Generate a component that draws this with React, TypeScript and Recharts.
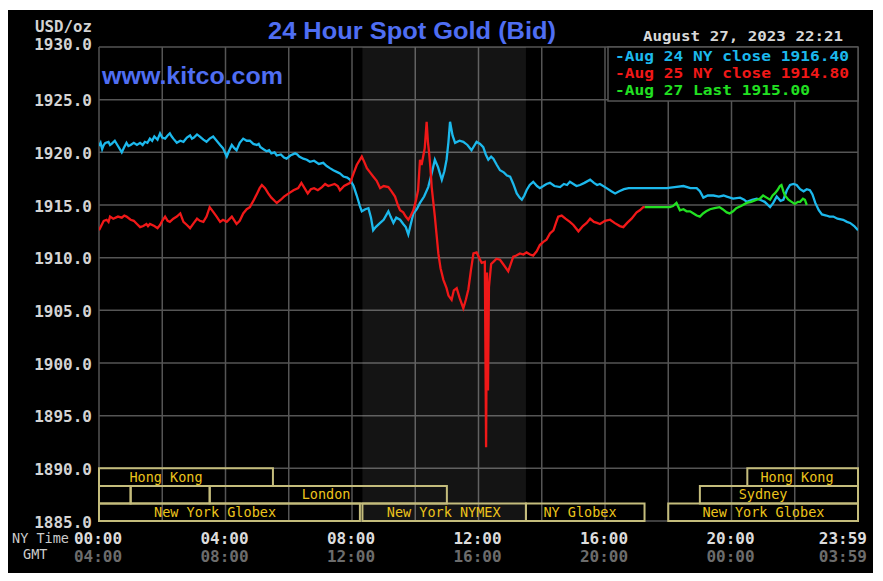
import React from "react";
import { LineChart, Line, XAxis, YAxis, CartesianGrid, ReferenceArea } from "recharts";

// ---- data (hours NY time, USD/oz) ----
const aug24Close: [number, number][] = [
  [0.0, 1920.6], [0.05, 1920.9], [0.1, 1920.3], [0.15, 1920.7], [0.2, 1920.9], [0.3, 1921.0], [0.35, 1920.7], [0.4, 1920.8], [0.5, 1921.1], [0.6, 1920.6],
  [0.72, 1920.0], [0.8, 1920.5], [0.87, 1920.9], [0.93, 1920.6], [1.0, 1920.7], [1.1, 1920.9], [1.2, 1920.7], [1.3, 1920.9],
  [1.38, 1920.7], [1.45, 1921.0], [1.53, 1920.9], [1.61, 1921.3], [1.68, 1921.1], [1.75, 1921.5], [1.85, 1921.2], [1.93, 1921.8], [2.0, 1921.4], [2.09, 1921.3],
  [2.17, 1921.6], [2.24, 1921.8], [2.3, 1921.5], [2.35, 1921.3], [2.46, 1920.9], [2.57, 1921.1], [2.67, 1921.0], [2.78, 1921.4],
  [2.88, 1921.6], [2.94, 1921.3], [3.0, 1921.4], [3.1, 1921.7], [3.19, 1921.5], [3.3, 1921.2], [3.4, 1921.0], [3.5, 1921.3],
  [3.61, 1921.5], [3.72, 1921.1], [3.83, 1920.7], [3.92, 1920.4], [4.04, 1919.6], [4.12, 1920.2], [4.2, 1920.7],
  [4.28, 1920.4], [4.35, 1920.2], [4.45, 1920.9], [4.56, 1921.3], [4.67, 1921.1], [4.77, 1921.1], [4.88, 1920.8],
  [4.99, 1920.7], [5.05, 1920.8], [5.1, 1920.5], [5.2, 1920.3], [5.3, 1920.1], [5.38, 1920.2], [5.45, 1919.9], [5.55, 1920.0], [5.62, 1919.7], [5.75, 1919.8],
  [5.85, 1919.5], [5.93, 1919.4], [6.05, 1919.7], [6.2, 1919.9], [6.27, 1919.8], [6.33, 1919.6], [6.46, 1919.4], [6.57, 1919.3],
  [6.67, 1919.1], [6.8, 1919.2], [6.95, 1918.9], [7.09, 1919.0], [7.2, 1918.7], [7.3, 1918.5], [7.41, 1918.3],
  [7.55, 1918.1], [7.62, 1918.0], [7.73, 1917.7], [7.85, 1917.6], [7.94, 1917.4], [8.05, 1916.8], [8.15, 1915.9],
  [8.25, 1914.9], [8.31, 1914.4], [8.42, 1914.6], [8.52, 1914.7], [8.6, 1913.8], [8.67, 1912.6], [8.75, 1912.9],
  [8.89, 1913.3], [9.0, 1913.6], [9.15, 1914.4], [9.22, 1913.9], [9.31, 1913.3], [9.4, 1913.8], [9.52, 1913.6],
  [9.62, 1913.2], [9.7, 1912.9], [9.78, 1912.2], [9.86, 1913.2], [9.94, 1914.2], [10.05, 1914.6], [10.15, 1915.2],
  [10.28, 1915.8], [10.41, 1916.7], [10.52, 1918.0], [10.62, 1919.3], [10.72, 1918.6], [10.84, 1917.4],
  [10.92, 1918.2], [10.99, 1919.3], [11.05, 1921.0], [11.1, 1922.9], [11.18, 1921.6], [11.26, 1920.9],
  [11.4, 1921.1], [11.52, 1921.0], [11.65, 1920.7], [11.78, 1920.2], [11.86, 1920.6], [11.94, 1921.0],
  [12.05, 1920.8], [12.15, 1920.5], [12.23, 1919.8], [12.31, 1919.3], [12.4, 1919.6], [12.47, 1919.4],
  [12.58, 1918.8], [12.68, 1918.3], [12.8, 1918.1], [12.9, 1917.8], [13.0, 1917.7], [13.1, 1917.0],
  [13.21, 1916.1], [13.3, 1915.7], [13.37, 1915.5], [13.45, 1915.9], [13.52, 1916.4], [13.62, 1916.9],
  [13.73, 1917.2], [13.85, 1916.8], [13.94, 1916.6], [14.05, 1916.8], [14.15, 1917.0], [14.26, 1917.1],
  [14.4, 1916.8], [14.58, 1916.7], [14.7, 1917.0], [14.8, 1916.9], [14.89, 1917.2], [15.0, 1917.0],
  [15.1, 1916.8], [15.21, 1916.9], [15.35, 1917.1], [15.53, 1917.4], [15.65, 1917.1], [15.75, 1916.9],
  [15.84, 1917.0], [16.05, 1916.6], [16.2, 1916.3], [16.32, 1916.1], [16.45, 1916.3], [16.6, 1916.5],
  [16.75, 1916.6], [17.11, 1916.6], [17.95, 1916.6], [18.2, 1916.7], [18.48, 1916.8], [18.7, 1916.6],
  [18.9, 1916.6], [19.0, 1916.3], [19.11, 1915.7], [19.25, 1915.9], [19.43, 1915.9], [19.6, 1915.8],
  [19.75, 1915.9], [19.85, 1915.8], [20.05, 1915.6], [20.27, 1915.7], [20.4, 1915.5], [20.48, 1915.3],
  [20.65, 1915.5], [20.8, 1915.6], [20.9, 1915.5], [21.05, 1915.3], [21.22, 1914.8], [21.32, 1915.2],
  [21.43, 1915.8], [21.55, 1915.4], [21.64, 1915.5], [21.75, 1916.4], [21.85, 1916.9], [21.96, 1917.0],
  [22.06, 1916.9], [22.17, 1916.5], [22.28, 1916.3], [22.38, 1916.5], [22.48, 1916.4], [22.56, 1916.0],
  [22.65, 1915.2], [22.76, 1914.5], [22.86, 1914.1], [23.0, 1914.0], [23.1, 1913.9], [23.22, 1913.9],
  [23.35, 1913.7], [23.53, 1913.6], [23.65, 1913.4], [23.75, 1913.3], [23.88, 1913.0], [24.0, 1912.6],
];

const aug25Close: [number, number][] = [
  [0.0, 1912.6], [0.05, 1912.9], [0.15, 1913.5], [0.24, 1913.6], [0.3, 1913.4], [0.35, 1913.9], [0.45, 1913.7], [0.6, 1913.9],
  [0.72, 1913.8], [0.8, 1914.0], [0.87, 1913.9], [1.0, 1913.6], [1.1, 1913.5], [1.2, 1913.2], [1.3, 1912.9], [1.4, 1913.0],
  [1.5, 1913.2], [1.55, 1913.0], [1.61, 1913.2], [1.75, 1913.0], [1.85, 1912.8], [1.93, 1913.1], [2.0, 1913.5], [2.09, 1913.9], [2.17, 1913.5],
  [2.24, 1913.4], [2.35, 1913.7], [2.46, 1913.9], [2.57, 1914.2], [2.67, 1913.4], [2.78, 1913.1], [2.88, 1912.8],
  [3.0, 1913.3], [3.1, 1913.7], [3.19, 1913.5], [3.3, 1913.4], [3.4, 1913.9], [3.5, 1914.8], [3.6, 1914.4],
  [3.72, 1913.9], [3.83, 1913.4], [3.92, 1913.6], [4.04, 1913.4], [4.2, 1913.9], [4.35, 1913.2], [4.45, 1913.5],
  [4.56, 1914.2], [4.67, 1914.6], [4.77, 1914.8], [4.9, 1915.5], [5.0, 1916.1], [5.08, 1916.6], [5.15, 1916.9],
  [5.25, 1916.6], [5.35, 1916.1], [5.45, 1915.7], [5.55, 1915.4], [5.62, 1915.2], [5.75, 1915.5], [5.85, 1915.8],
  [6.0, 1916.1], [6.15, 1916.4], [6.3, 1916.6], [6.4, 1917.1], [6.5, 1916.6], [6.6, 1916.1], [6.7, 1916.5],
  [6.8, 1916.6], [6.92, 1916.4], [7.05, 1916.7], [7.15, 1917.0], [7.25, 1916.8], [7.35, 1916.9], [7.45, 1917.0],
  [7.55, 1916.8], [7.62, 1916.4], [7.75, 1916.8], [7.94, 1917.1], [8.05, 1918.0], [8.15, 1918.8], [8.31, 1919.6],
  [8.4, 1919.0], [8.47, 1918.5], [8.57, 1918.1], [8.67, 1917.7], [8.78, 1917.3], [8.89, 1916.6], [9.0, 1916.8],
  [9.15, 1916.7], [9.25, 1916.3], [9.36, 1915.8], [9.45, 1915.0], [9.52, 1914.5], [9.62, 1914.3], [9.7, 1913.9],
  [9.78, 1913.6], [9.86, 1914.0], [9.94, 1914.5], [10.02, 1915.4], [10.09, 1916.4], [10.15, 1919.3],
  [10.2, 1918.8], [10.25, 1919.6], [10.3, 1920.4], [10.36, 1922.9], [10.4, 1921.0], [10.44, 1919.9],
  [10.48, 1918.5], [10.52, 1916.7], [10.57, 1915.3], [10.62, 1913.9], [10.68, 1912.0], [10.73, 1910.4],
  [10.8, 1909.0], [10.89, 1907.9], [10.99, 1907.1], [11.05, 1906.4], [11.15, 1906.0], [11.22, 1906.9],
  [11.31, 1907.1], [11.4, 1906.2], [11.52, 1905.2], [11.6, 1906.0], [11.68, 1907.0], [11.76, 1908.8],
  [11.84, 1910.4], [11.94, 1910.5], [12.02, 1910.0], [12.1, 1909.5], [12.2, 1909.6], [12.24, 1892.0],
  [12.27, 1908.6], [12.3, 1897.4], [12.33, 1907.2], [12.4, 1909.4], [12.47, 1909.6], [12.57, 1909.9],
  [12.68, 1909.8], [12.8, 1909.3], [12.94, 1908.7], [13.02, 1909.4], [13.1, 1910.1], [13.2, 1910.2],
  [13.31, 1910.4], [13.42, 1910.3], [13.52, 1910.5], [13.63, 1910.3], [13.73, 1910.2], [13.84, 1910.6],
  [13.94, 1911.2], [14.05, 1911.5], [14.15, 1911.7], [14.26, 1912.3], [14.37, 1912.6], [14.45, 1913.3],
  [14.52, 1913.9], [14.63, 1914.0], [14.75, 1913.7], [14.89, 1913.4], [15.0, 1913.1], [15.16, 1912.5],
  [15.3, 1913.0], [15.42, 1913.3], [15.53, 1913.7], [15.65, 1913.4], [15.75, 1913.3], [15.84, 1913.2],
  [16.0, 1913.5], [16.16, 1913.6], [16.3, 1913.3], [16.47, 1913.0], [16.58, 1912.9], [16.7, 1913.3],
  [16.84, 1913.7], [17.0, 1914.3], [17.1, 1914.5], [17.21, 1914.8], [17.26, 1914.8],
];

const aug27Last: [number, number][] = [
  [17.26, 1914.8], [18.05, 1914.8], [18.15, 1914.9], [18.26, 1915.2], [18.37, 1914.5], [18.48, 1914.6],
  [18.58, 1914.4], [18.69, 1914.4], [18.8, 1914.2], [18.9, 1914.0], [19.0, 1913.9], [19.1, 1914.2],
  [19.2, 1914.4], [19.32, 1914.6], [19.46, 1914.7], [19.62, 1914.8], [19.72, 1914.6], [19.85, 1914.3],
  [19.94, 1914.2], [20.05, 1914.4], [20.15, 1914.7], [20.3, 1914.9], [20.48, 1915.2], [20.62, 1915.3],
  [20.8, 1915.5], [20.9, 1915.6], [21.0, 1915.9], [21.11, 1915.7], [21.22, 1915.5], [21.3, 1915.9],
  [21.37, 1916.1], [21.45, 1916.4], [21.53, 1916.8], [21.58, 1916.9], [21.64, 1916.3], [21.69, 1915.9],
  [21.8, 1915.5], [21.9, 1915.3], [22.0, 1915.1], [22.1, 1915.3], [22.17, 1915.3], [22.26, 1915.6],
  [22.32, 1915.5], [22.38, 1915.0],
];

const seriesInfo = [
  { key: "aug24", label: "Aug 24 NY close 1916.40", color: "#1cb8ec", points: aug24Close },
  { key: "aug25", label: "Aug 25 NY close 1914.80", color: "#f01818", points: aug25Close },
  { key: "aug27", label: "Aug 27 Last 1915.00", color: "#22e022", points: aug27Last },
];

const yTicks = [1885, 1890, 1895, 1900, 1905, 1910, 1915, 1920, 1925, 1930];
const xTicks = [0, 2, 4, 6, 8, 10, 12, 14, 16, 18, 20, 22, 24];
const nyTimeLabels = ["00:00", "04:00", "08:00", "12:00", "16:00", "20:00", "23:59"];
const gmtLabels = ["04:00", "08:00", "12:00", "16:00", "20:00", "00:00", "03:59"];

const pitSession = { start: 8.33, end: 13.5 };

// rows: 0 = top, 2 = bottom (within 1885-1890)
const sessions = [
  { name: "Hong Kong", start: 0, end: 5.5, row: 0, labelAt: 2.12 },
  { name: "Hong Kong", start: 20.5, end: 24, row: 0, labelAt: 22.07 },
  { name: "", start: 0, end: 1, row: 1, labelAt: 0.5 },
  { name: "", start: 1, end: 3.5, row: 1, labelAt: 2.25 },
  { name: "London", start: 3.5, end: 11, row: 1, labelAt: 7.18 },
  { name: "Sydney", start: 19, end: 24, row: 1, labelAt: 21.0 },
  { name: "New York Globex", start: 0, end: 8.25, row: 2, labelAt: 3.67 },
  { name: "New York NYMEX", start: 8.33, end: 13.5, row: 2, labelAt: 10.9 },
  { name: "NY Globex", start: 13.5, end: 17.25, row: 2, labelAt: 15.21 },
  { name: "New York Globex", start: 18, end: 24, row: 2, labelAt: 21.01 },
];

const MONO = "'DejaVu Sans Mono', monospace";
const SANS = "'Liberation Sans', Arial, sans-serif";

const YTick = (props: any) => {
  const { x, y, payload } = props;
  const isTop = payload.value === 1930;
  return (
    <text x={x - 7} y={y + (isTop ? 2.5 : 6.5)} textAnchor="end" fill="#d4d4d4" fontFamily={MONO} fontWeight="bold" fontSize={16}>
      {payload.value.toFixed(1)}
    </text>
  );
};

const XTick = (props: any) => {
  const { x, y, payload } = props;
  const v = payload.value;
  if (v % 4 !== 0) return <g />;
  const i = v / 4;
  const last = i === nyTimeLabels.length - 1;
  const tx = last ? x + 9 : x - 1;
  const anchor = last ? "end" : "middle";
  return (
    <g>
      <text x={tx} y={y + 22.5} textAnchor={anchor} fill="#dcdcdc" fontFamily={MONO} fontWeight="bold" fontSize={16}>
        {nyTimeLabels[i]}
      </text>
      <text x={tx} y={y + 41} textAnchor={anchor} fill="#6c6c6c" fontFamily={MONO} fontWeight="bold" fontSize={16}>
        {gmtLabels[i]}
      </text>
    </g>
  );
};

const rowBounds = (row: number): [number, number] => {
  const step = 5 / 3;
  const top = 1890 - row * step;
  return [top - step, top];
};

export default function App() {
  return (
    <div style={{ position: "absolute", left: 0, top: 0, width: 883, height: 581, background: "#fff" }}>
      <div style={{ position: "absolute", left: 8, top: 10, width: 865, height: 563, background: "#000" }} />
      <div style={{ position: "absolute", left: 0, top: 0 }}>
        <LineChart width={883} height={581} margin={{ top: 47, right: 25, left: 0, bottom: 0 }}>
          <CartesianGrid stroke="#555555" strokeWidth={1.5} />
          <ReferenceArea
            x1={pitSession.start}
            x2={pitSession.end}
            y1={1885}
            y2={1930}
            fill="#ffffff"
            fillOpacity={0.08}
            stroke="none"
          />
          <XAxis
            type="number"
            dataKey="t"
            domain={[0, 24]}
            ticks={xTicks}
            interval={0}
            height={60}
            axisLine={false}
            tickLine={false}
            tickSize={0}
            tickMargin={0}
            tick={<XTick />}
            allowDataOverflow
          />
          <YAxis
            type="number"
            domain={[1885, 1930]}
            ticks={yTicks}
            interval={0}
            width={99}
            axisLine={false}
            tickLine={false}
            tickSize={0}
            tickMargin={0}
            tick={<YTick />}
            allowDataOverflow
          />
          {sessions.map((s, i) => {
            const [lo, hi] = rowBounds(s.row);
            return (
              <ReferenceArea
                key={"s" + i}
                x1={s.start}
                x2={s.end}
                y1={lo}
                y2={hi}
                fill="none"
                stroke="#c4bc7c"
                strokeWidth={2}
                label={{
                  content: (p: any) => {
                    const vb = p.viewBox;
                    if (!vb || !s.name) return null;
                    const f = (s.labelAt - s.start) / (s.end - s.start);
                    return (
                      <text
                        x={vb.x + f * vb.width}
                        y={vb.y + vb.height / 2 + 4.5}
                        textAnchor="middle"
                        fill="#ecc41c"
                        fontFamily={MONO}
                        fontSize={13.5}
                      >
                        {s.name}
                      </text>
                    );
                  },
                }}
              />
            );
          })}
          {seriesInfo.map((s) => (
            <Line
              key={s.key}
              data={s.points.map(([t, v]) => ({ t, v }))}
              dataKey="v"
              type="linear"
              stroke={s.color}
              strokeWidth={2.3}
              dot={false}
              activeDot={false}
              isAnimationActive={false}
              name={s.label}
            />
          ))}
        </LineChart>
      </div>
      <svg width={883} height={581} style={{ position: "absolute", left: 0, top: 0, pointerEvents: "none" }}>
        <text x={268} y={39} fill="#4f6ef2" fontFamily={SANS} fontWeight="bold" fontSize={24} textLength={288} lengthAdjust="spacingAndGlyphs">
          24 Hour Spot Gold (Bid)
        </text>
        <text x={102} y={84} fill="#4f6ef2" fontFamily={SANS} fontWeight="bold" fontSize={23} textLength={181} lengthAdjust="spacingAndGlyphs">
          www.kitco.com
        </text>
        <text x={35} y={32} fill="#d4d4d4" fontFamily={MONO} fontWeight="bold" fontSize={15} textLength={57} lengthAdjust="spacingAndGlyphs">
          USD/oz
        </text>
        <text x={643} y={41} fill="#d8d8d8" fontFamily={MONO} fontWeight="bold" fontSize={13.5} textLength={200} lengthAdjust="spacingAndGlyphs">
          August 27, 2023 22:21
        </text>
        <rect x={608} y={47} width={250} height={54} fill="#000" stroke="#555555" strokeWidth={1.5} />
        {seriesInfo.map((s, i) => (
          <text
            key={s.key}
            x={615}
            y={60.5 + i * 17}
            fill={s.color}
            fontFamily={MONO}
            fontWeight="bold"
            fontSize={13.5}
            textLength={(s.label.length + 1) * 9.75}
            lengthAdjust="spacingAndGlyphs"
          >
            {"-" + s.label}
          </text>
        ))}
        <text x={12} y={543} fill="#cccccc" fontFamily={MONO} fontSize={13.5}>
          NY Time
        </text>
        <text x={23} y={559} fill="#cccccc" fontFamily={MONO} fontSize={13.5}>
          GMT
        </text>
      </svg>
    </div>
  );
}
